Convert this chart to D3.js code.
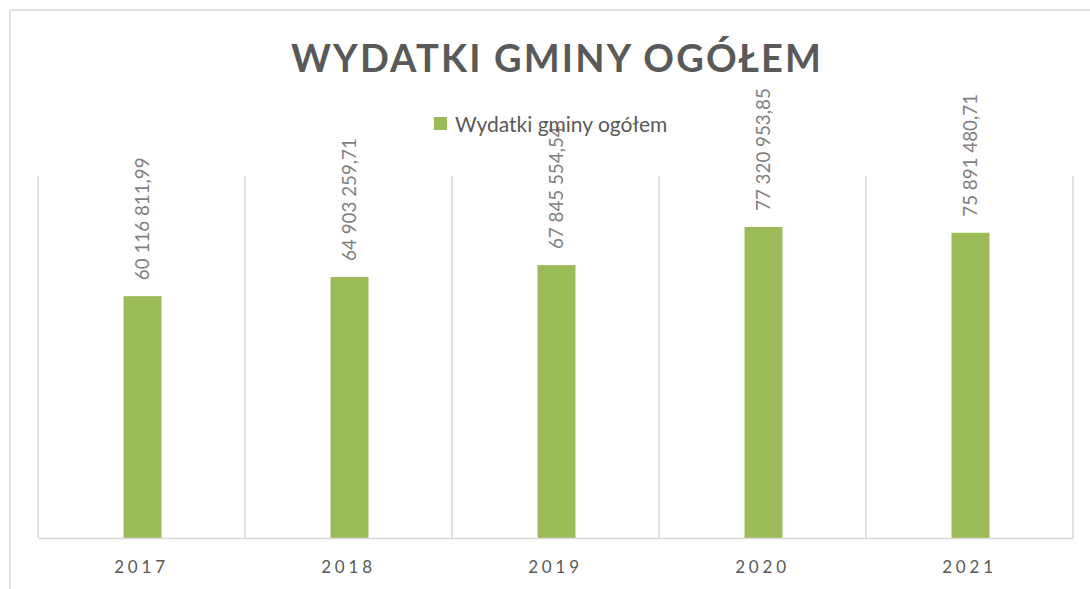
<!DOCTYPE html>
<html><head><meta charset="utf-8">
<script src="https://cdn.jsdelivr.net/npm/d3@7"></script>
<style>body{margin:0;background:#fff;}svg{display:block;}text{font-family:Lato,"Open Sans",sans-serif;}</style>
</head><body><svg id="c" width="1090" height="589"></svg>
<script>
const categories = ["2017","2018","2019","2020","2021"];
const values = [60116811.99, 64903259.71, 67845554.54, 77320953.85, 75891480.71];
const labels = ["60 116 811,99","64 903 259,71","67 845 554,54","77 320 953,85","75 891 480,71"];
const seriesName = "Wydatki gminy ogółem";
const title = "WYDATKI GMINY OGÓŁEM";

(function(){
const svg = d3.select("#c");
const gray = "#d9d9d9", textC = "#595959", barC = "#9bbb59";

svg.append("rect").attr("x",10).attr("y",10).attr("width",1100).attr("height",600)
  .attr("fill","#fff").attr("stroke",gray).attr("stroke-width",1.5);

const pLeft = 38, pRight = 1073, pTop = 176, pBottom = 538;
const x = d3.scaleBand().domain(categories).range([pLeft,pRight]).paddingInner(0).paddingOuter(0);
const y = d3.scaleLinear().domain([0,90000000]).range([pBottom,pTop]);
const barW = 38;

const bounds = categories.map(c=>x(c)).concat([pRight]);
svg.append("g").selectAll("line").data(bounds).join("line")
  .attr("x1",d=>d).attr("x2",d=>d).attr("y1",pTop).attr("y2",pBottom)
  .attr("stroke",gray).attr("stroke-width",1.5);

svg.append("g").selectAll("rect").data(values).join("rect")
  .attr("x",(d,i)=>x(categories[i])+x.bandwidth()/2-barW/2+1)
  .attr("width",barW)
  .attr("y",d=>y(d)).attr("height",d=>pBottom-y(d))
  .attr("fill",barC);

const xa = svg.append("g").attr("transform",`translate(0,${pBottom})`).call(d3.axisBottom(x).tickSize(0).tickPadding(0));
xa.select(".domain").attr("stroke",gray).attr("stroke-width",1.5);
xa.selectAll(".tick text").attr("dy",null).attr("y",35).attr("fill",textC)
  .style("font-size","17px").style("letter-spacing","3.8px").attr("font-family","Lato");

svg.append("g").selectAll("text").data(values).join("text")
  .attr("transform",(d,i)=>`translate(${x(categories[i])+x.bandwidth()/2+7.5},${y(d)-16}) rotate(-90)`)
  .attr("fill","#7f7f7f").style("font-size","18.8px").text((d,i)=>labels[i]);

svg.append("text").attr("x",556).attr("y",72).attr("text-anchor","middle")
  .attr("fill",textC).style("font-size","38px").style("font-weight","bold")
  .attr("textLength",530).attr("lengthAdjust","spacing").text(title);

svg.append("rect").attr("x",434).attr("y",117).attr("width",13).attr("height",13).attr("fill",barC);
svg.append("text").attr("x",455).attr("y",132).attr("fill",textC).style("font-size","21px").text(seriesName);
})();
</script></body></html>
